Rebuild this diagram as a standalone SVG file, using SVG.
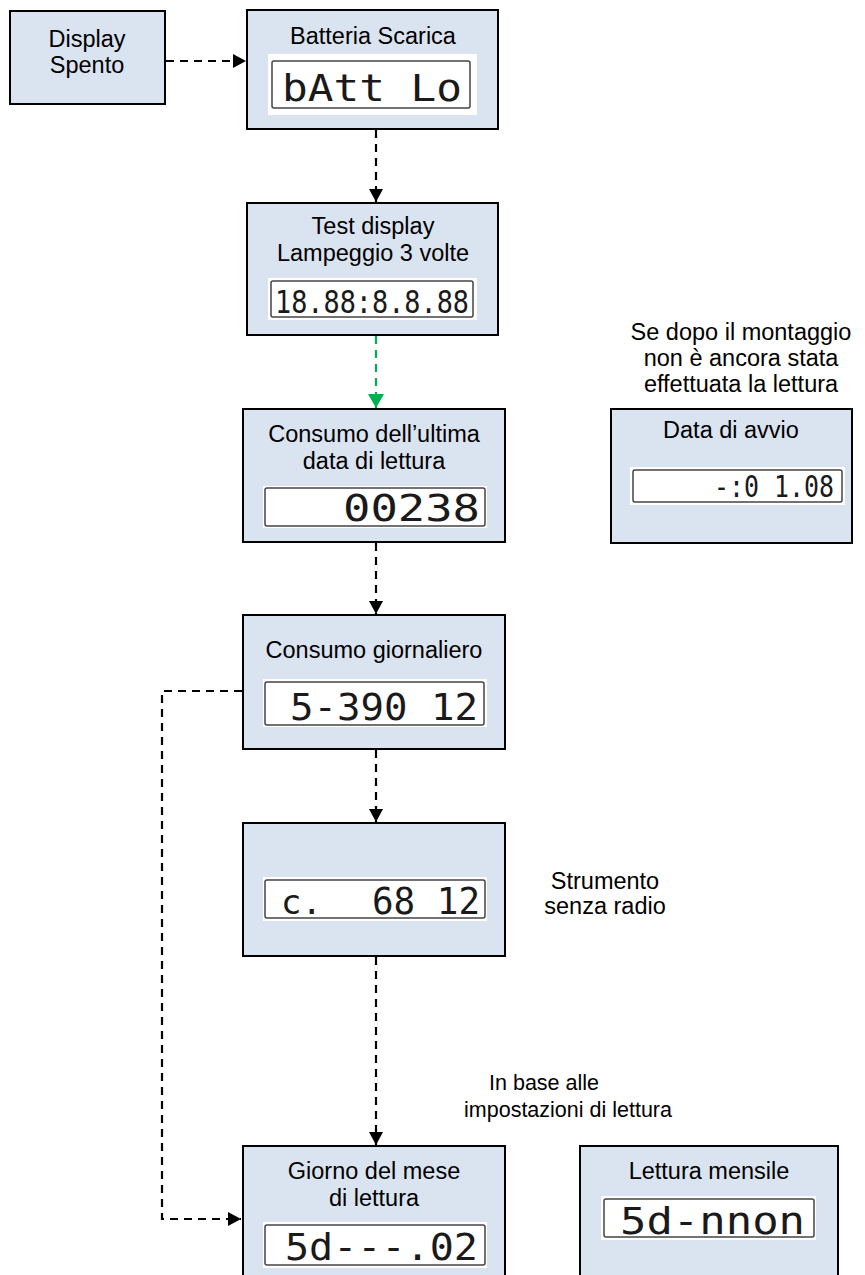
<svg xmlns="http://www.w3.org/2000/svg" width="865" height="1275" viewBox="0 0 865 1275">
<style>
.box{fill:#dae3f0;stroke:#000;stroke-width:2}
.t{font-family:"Liberation Sans",Arial,sans-serif;font-size:23.5px;fill:#000;text-anchor:middle}
.lcdbg{fill:#fff}
.lcd{fill:#fff;stroke:#444;stroke-width:1.5}
.seg{font-family:"DejaVu Sans Mono","Liberation Mono",monospace;font-size:38px;fill:#1a1a1a}
.c{fill:none;stroke:#000;stroke-width:2.2;stroke-dasharray:8,6}
.g{fill:none;stroke:#00b050;stroke-width:2.2;stroke-dasharray:8,6}
</style>
<defs>
<marker id="ah" markerUnits="userSpaceOnUse" markerWidth="14" markerHeight="14" refX="13" refY="7" orient="auto"><path d="M0,0 L13,7 L0,14 z" fill="#000"/></marker>
<marker id="ahg" markerUnits="userSpaceOnUse" markerWidth="16" markerHeight="16" refX="14" refY="8" orient="auto"><path d="M0,0 L14,8 L0,16 z" fill="#00b050"/></marker>
</defs>
<g id="connectors">
<path class="c" d="M166,61 H246" marker-end="url(#ah)"/>
<path class="c" d="M376,130 V202" marker-end="url(#ah)"/>
<path class="g" d="M376,336 V408" marker-end="url(#ahg)"/>
<path class="c" d="M376,543 V614" marker-end="url(#ah)"/>
<path class="c" d="M376,750 V822" marker-end="url(#ah)"/>
<path class="c" d="M376,957 V1145" marker-end="url(#ah)"/>
<path class="c" d="M242,691 H162 V1219 H241" marker-end="url(#ah)"/>
</g>
<g id="display-spento">
<rect class="box" x="10" y="11" width="155" height="93"/>
<text class="t" x="87" y="47">Display</text>
<text class="t" x="87" y="73">Spento</text>
</g>
<g id="batteria-scarica">
<rect class="box" x="247" y="10" width="251" height="119"/>
<text class="t" x="373" y="44">Batteria Scarica</text>
<rect class="lcdbg" x="268" y="54" width="209" height="61"/>
<rect class="lcd" x="272" y="61" width="198" height="47" rx="2"/>
<text class="seg" x="282" y="101" textLength="180" lengthAdjust="spacingAndGlyphs">bAtt Lo</text>
</g>
<g id="test-display">
<rect class="box" x="247" y="203" width="251" height="132"/>
<text class="t" x="373" y="234">Test display</text>
<text class="t" x="373" y="261">Lampeggio 3 volte</text>
<rect class="lcdbg" x="268" y="278" width="209" height="42"/>
<rect class="lcd" x="271" y="281" width="202" height="36" rx="2"/>
<text class="seg" x="275" y="313" style="font-size:32px" textLength="194" lengthAdjust="spacingAndGlyphs">18.88:8.8.88</text>
</g>
<g id="consumo-ultima">
<rect class="box" x="243" y="409" width="262" height="133"/>
<text class="t" x="374" y="442">Consumo dell’ultima</text>
<text class="t" x="374" y="469">data di lettura</text>
<rect class="lcdbg" x="263" y="486" width="224" height="42"/>
<rect class="lcd" x="265" y="488" width="220" height="38" rx="2"/>
<text class="seg" x="343" y="521" textLength="137" lengthAdjust="spacingAndGlyphs">00238</text>
</g>
<g id="data-avvio">
<rect class="box" x="611" y="409" width="241" height="134"/>
<text class="t" x="731" y="438">Data di avvio</text>
<rect class="lcdbg" x="630" y="467" width="215" height="38"/>
<rect class="lcd" x="633" y="470" width="209" height="32" rx="2"/>
<text class="seg" x="714" y="497" style="font-size:31px" textLength="120" lengthAdjust="spacingAndGlyphs">-:0 1.08</text>
</g>
<g id="consumo-giornaliero">
<rect class="box" x="243" y="615" width="262" height="134"/>
<text class="t" x="374" y="658">Consumo giornaliero</text>
<rect class="lcdbg" x="263" y="679" width="224" height="48"/>
<rect class="lcd" x="265" y="682" width="219" height="43" rx="2"/>
<text class="seg" x="290" y="720" textLength="188" lengthAdjust="spacingAndGlyphs">5-390 12</text>
</g>
<g id="strumento-senza-radio">
<rect class="box" x="243" y="823" width="262" height="133"/>
<rect class="lcdbg" x="263" y="877" width="224" height="44"/>
<rect class="lcd" x="265" y="880" width="220" height="38" rx="2"/>
<text class="seg" x="281" y="914" style="font-size:34px">c.</text>
<text class="seg" x="372" y="914" textLength="108" lengthAdjust="spacingAndGlyphs">68 12</text>
</g>
<g id="giorno-mese">
<rect class="box" x="243" y="1146" width="262" height="135"/>
<text class="t" x="374" y="1179">Giorno del mese</text>
<text class="t" x="374" y="1206">di lettura</text>
<rect class="lcdbg" x="263" y="1222" width="224" height="46"/>
<rect class="lcd" x="265" y="1225" width="220" height="40" rx="2"/>
<text class="seg" x="285" y="1260" textLength="193" lengthAdjust="spacingAndGlyphs">5d---.02</text>
</g>
<g id="lettura-mensile">
<rect class="box" x="580" y="1146" width="258" height="135"/>
<text class="t" x="709" y="1179">Lettura mensile</text>
<rect class="lcdbg" x="601" y="1196" width="215" height="44"/>
<rect class="lcd" x="604" y="1199" width="210" height="38" rx="2"/>
<text class="seg" x="620" y="1234" textLength="185" lengthAdjust="spacingAndGlyphs">5d-nnon</text>
</g>
<g id="labels">
<text class="t" x="741" y="340">Se dopo il montaggio</text>
<text class="t" x="741" y="366">non è ancora stata</text>
<text class="t" x="741" y="392">effettuata la lettura</text>
<text class="t" x="605" y="889">Strumento</text>
<text class="t" x="605" y="914">senza radio</text>
<text class="t" x="544" y="1090" style="font-size:21.5px">In base alle</text>
<text class="t" x="568" y="1117" style="font-size:21.5px">impostazioni di lettura</text>
</g>
</svg>
